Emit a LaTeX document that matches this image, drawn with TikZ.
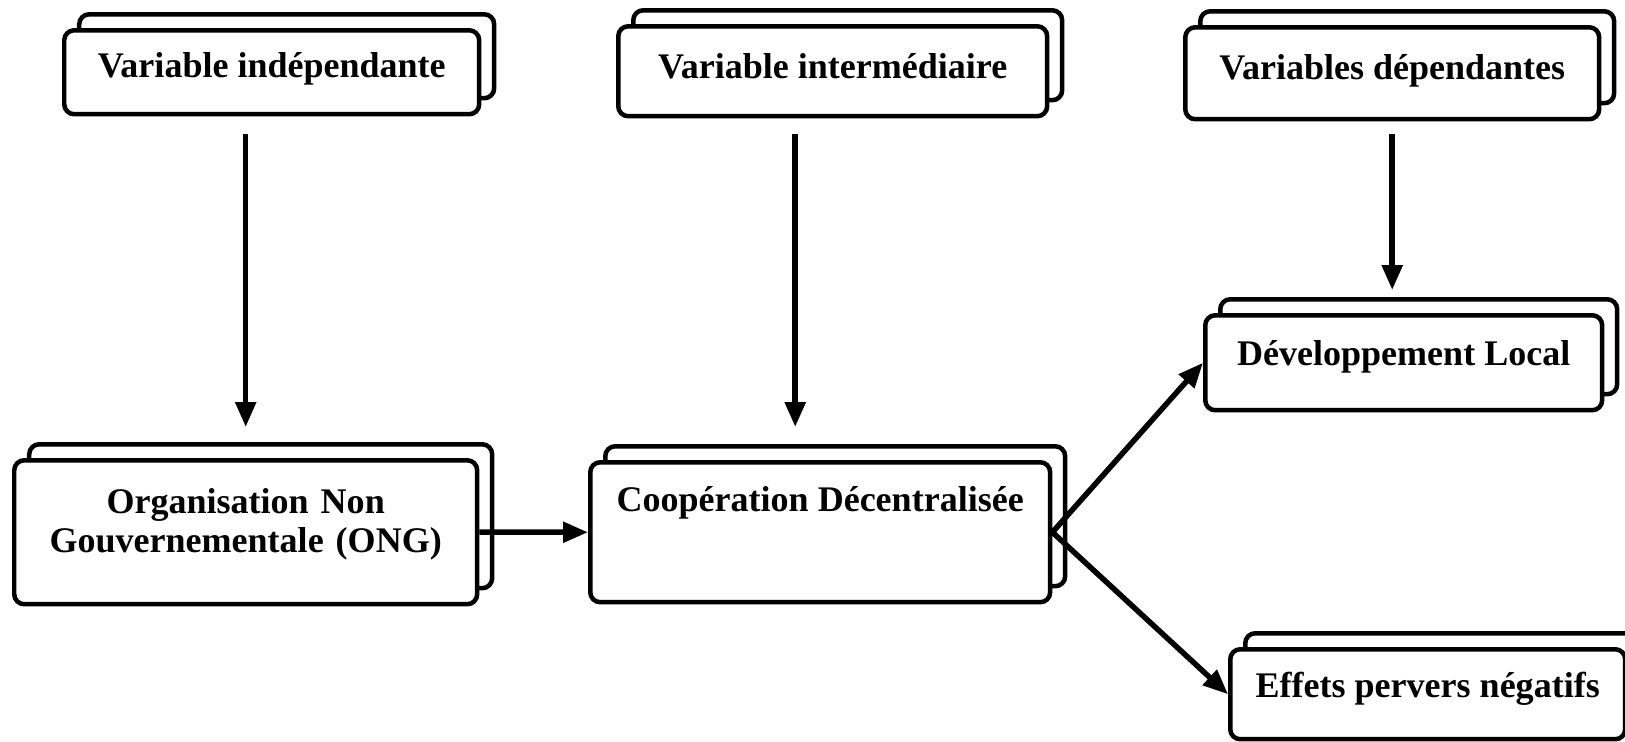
\documentclass[tikz,border=0pt]{standalone}
\usepackage{fontspec}
\newfontfamily\cardfont{Liberation Serif}
\usepackage{tikz}
\usetikzlibrary{
    arrows.meta,
    shadows,
    calc
}
\tikzstyle{card} = [
    rectangle,
    rounded corners=0.2cm,
    draw=black,
    fill=white,
    line width=0.09cm,
    anchor=north west,
    inner xsep=0pt,
    inner ysep=0pt,
    align=center,
    copy shadow={shadow xshift=0.3cm, shadow yshift=0.32cm, fill=white, draw=black},
    font=\cardfont\bfseries\fontsize{20.5}{21.8}\selectfont
]
\tikzstyle{flow} = [
    -{Triangle[length=0.5cm, width=0.4cm]},
    line width=0.11cm,
    draw=black
]

\begin{document}
\begin{tikzpicture}[x=0.02cm, y=-0.02cm]
    \useasboundingbox (0,0) rectangle (1625,741);

    % Variables
    \node[card, minimum width=8.3cm, text height=0.94cm, text depth=0.74cm] (indep) at (62,28) {Variable indépendante};
    \node[card, minimum width=8.58cm, text height=1.04cm, text depth=0.76cm] (inter) at (616,24) {Variable intermédiaire};
    \node[card, minimum width=8.28cm, text height=1.04cm, text depth=0.8cm] (dep) at (1183,25) {Variables dépendantes};

    % Middle row
    \node[card, minimum width=9.26cm, text width=9cm, text height=1.07cm, text depth=1.81cm] (ong) at (12,458) {Organisation Non\\Gouvernementale (ONG)};
    \node[card, minimum width=9.2cm, text height=0.98cm, text depth=1.82cm] (coop) at (588,460) {Coopération Décentralisée};

    % Results
    \node[card, minimum width=7.94cm, text height=1.0cm, text depth=0.9cm] (dev) at (1203,313) {Développement Local};
    \node[card, minimum width=7.9cm, text height=0.96cm, text depth=0.84cm] (effets) at (1228,647) {Effets pervers négatifs};

    % Arrows
    \draw[flow, shorten <=0.36cm, shorten >=0.62cm] (indep.south -| ong.north) -- (ong.north);
    \draw[flow, shorten <=0.32cm, shorten >=0.66cm] ([xshift=-0.5cm]coop.north |- inter.south) -- ([xshift=-0.5cm]coop.north);
    \draw[flow, shorten <=0.26cm, shorten >=0.46cm] (dep.south) -- (dep.south |- dev.north);
    \draw[flow] (ong.east) -- (coop.west);
    \draw[flow] (coop.east) -- (dev.west);
    \draw[flow] (coop.east) -- (effets.west);
\end{tikzpicture}
\end{document}
